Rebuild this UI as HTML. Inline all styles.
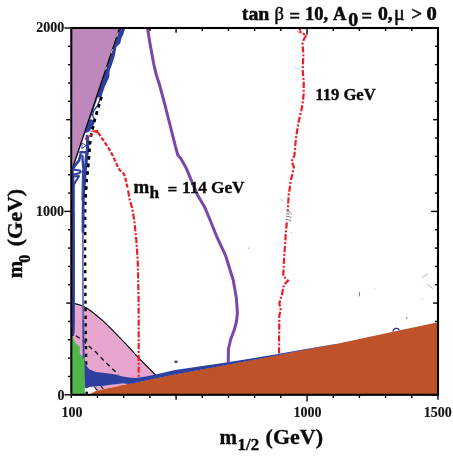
<!DOCTYPE html>
<html><head><meta charset="utf-8">
<style>
html,body{margin:0;padding:0;background:#fff;}
svg{display:block;will-change:transform;}
text{font-family:"Liberation Serif",serif;font-weight:bold;fill:#0a0a0a;stroke:#0a0a0a;stroke-width:0.35px;}
.tt text{stroke-width:0.5px;}
.tl text{stroke-width:0.15px;fill:#151515;stroke:#151515;}
</style></head><body>
<svg width="453" height="457" viewBox="0 0 453 457">
<rect width="453" height="457" fill="#fff"/>
<!-- ticks -->
<g stroke="#000" stroke-width="1.4" fill="none">
<line x1="71.30" y1="395.80" x2="71.30" y2="397.90"/>
<line x1="71.30" y1="29.00" x2="71.30" y2="31.00"/>
<line x1="97.49" y1="395.80" x2="97.49" y2="397.90"/>
<line x1="97.49" y1="29.00" x2="97.49" y2="31.00"/>
<line x1="123.69" y1="395.80" x2="123.69" y2="397.90"/>
<line x1="123.69" y1="29.00" x2="123.69" y2="31.00"/>
<line x1="149.88" y1="395.80" x2="149.88" y2="397.90"/>
<line x1="149.88" y1="29.00" x2="149.88" y2="31.00"/>
<line x1="176.07" y1="395.80" x2="176.07" y2="399.70"/>
<line x1="176.07" y1="29.00" x2="176.07" y2="32.80"/>
<line x1="202.26" y1="395.80" x2="202.26" y2="397.90"/>
<line x1="202.26" y1="29.00" x2="202.26" y2="31.00"/>
<line x1="228.46" y1="395.80" x2="228.46" y2="397.90"/>
<line x1="228.46" y1="29.00" x2="228.46" y2="31.00"/>
<line x1="254.65" y1="395.80" x2="254.65" y2="397.90"/>
<line x1="254.65" y1="29.00" x2="254.65" y2="31.00"/>
<line x1="280.84" y1="395.80" x2="280.84" y2="397.90"/>
<line x1="280.84" y1="29.00" x2="280.84" y2="31.00"/>
<line x1="307.04" y1="395.80" x2="307.04" y2="401.60"/>
<line x1="307.04" y1="29.00" x2="307.04" y2="34.70"/>
<line x1="333.23" y1="395.80" x2="333.23" y2="397.90"/>
<line x1="333.23" y1="29.00" x2="333.23" y2="31.00"/>
<line x1="359.42" y1="395.80" x2="359.42" y2="397.90"/>
<line x1="359.42" y1="29.00" x2="359.42" y2="31.00"/>
<line x1="385.61" y1="395.80" x2="385.61" y2="397.90"/>
<line x1="385.61" y1="29.00" x2="385.61" y2="31.00"/>
<line x1="411.81" y1="395.80" x2="411.81" y2="397.90"/>
<line x1="411.81" y1="29.00" x2="411.81" y2="31.00"/>
<line x1="438.00" y1="395.80" x2="438.00" y2="399.70"/>
<line x1="438.00" y1="29.00" x2="438.00" y2="32.80"/>
<line x1="70.30" y1="394.80" x2="64.40" y2="394.80"/>
<line x1="437.00" y1="394.80" x2="431.20" y2="394.80"/>
<line x1="70.30" y1="376.46" x2="68.00" y2="376.46"/>
<line x1="437.00" y1="376.46" x2="434.80" y2="376.46"/>
<line x1="70.30" y1="358.12" x2="68.00" y2="358.12"/>
<line x1="437.00" y1="358.12" x2="434.80" y2="358.12"/>
<line x1="70.30" y1="339.78" x2="68.00" y2="339.78"/>
<line x1="437.00" y1="339.78" x2="434.80" y2="339.78"/>
<line x1="70.30" y1="321.44" x2="68.00" y2="321.44"/>
<line x1="437.00" y1="321.44" x2="434.80" y2="321.44"/>
<line x1="70.30" y1="303.10" x2="66.30" y2="303.10"/>
<line x1="437.00" y1="303.10" x2="433.10" y2="303.10"/>
<line x1="70.30" y1="284.76" x2="68.00" y2="284.76"/>
<line x1="437.00" y1="284.76" x2="434.80" y2="284.76"/>
<line x1="70.30" y1="266.42" x2="68.00" y2="266.42"/>
<line x1="437.00" y1="266.42" x2="434.80" y2="266.42"/>
<line x1="70.30" y1="248.08" x2="68.00" y2="248.08"/>
<line x1="437.00" y1="248.08" x2="434.80" y2="248.08"/>
<line x1="70.30" y1="229.74" x2="68.00" y2="229.74"/>
<line x1="437.00" y1="229.74" x2="434.80" y2="229.74"/>
<line x1="70.30" y1="211.40" x2="64.30" y2="211.40"/>
<line x1="437.00" y1="211.40" x2="431.10" y2="211.40"/>
<line x1="70.30" y1="193.06" x2="68.00" y2="193.06"/>
<line x1="437.00" y1="193.06" x2="434.80" y2="193.06"/>
<line x1="70.30" y1="174.72" x2="68.00" y2="174.72"/>
<line x1="437.00" y1="174.72" x2="434.80" y2="174.72"/>
<line x1="70.30" y1="156.38" x2="68.00" y2="156.38"/>
<line x1="437.00" y1="156.38" x2="434.80" y2="156.38"/>
<line x1="70.30" y1="138.04" x2="68.00" y2="138.04"/>
<line x1="437.00" y1="138.04" x2="434.80" y2="138.04"/>
<line x1="70.30" y1="119.70" x2="66.30" y2="119.70"/>
<line x1="437.00" y1="119.70" x2="433.10" y2="119.70"/>
<line x1="70.30" y1="101.36" x2="68.00" y2="101.36"/>
<line x1="437.00" y1="101.36" x2="434.80" y2="101.36"/>
<line x1="70.30" y1="83.02" x2="68.00" y2="83.02"/>
<line x1="437.00" y1="83.02" x2="434.80" y2="83.02"/>
<line x1="70.30" y1="64.68" x2="68.00" y2="64.68"/>
<line x1="437.00" y1="64.68" x2="434.80" y2="64.68"/>
<line x1="70.30" y1="46.34" x2="68.00" y2="46.34"/>
<line x1="437.00" y1="46.34" x2="434.80" y2="46.34"/>
<line x1="70.30" y1="28.00" x2="64.40" y2="28.00"/>
<line x1="437.00" y1="28.00" x2="431.20" y2="28.00"/>
</g>
<!-- filled regions -->
<polygon points="72.0,28.0 119.7,28.0 72.4,168.7" fill="#be87bd"/>
<polygon points="72.0,303.2 74.6,303.5 78.5,304.6 83.2,306.3 86.5,308.0 89.9,310.2 93.2,312.7 96.5,315.5 103.1,320.9 109.7,327.4 116.4,334.1 123.0,340.9 127.0,345.2 132.0,350.7 138.3,357.5 146.0,365.3 151.0,370.4 156.4,375.8 157.6,378.5 157.0,381.0 100.0,381.0 85.0,381.0 72.0,381.0" fill="#e5a5cc"/>
<polygon points="94.5,387.0 97.5,391.0 102.5,389.5 109.0,388.1 115.7,386.8 122.4,385.1 126.0,383.5 115.7,384.0 102.5,385.8 95.9,386.9" fill="#e5a5cc"/>
<polyline points="72.0,303.2 74.6,303.5 78.5,304.6 83.2,306.3 86.5,308.0 89.9,310.2 93.2,312.7 96.5,315.5 103.1,320.9 109.7,327.4 116.4,334.1 123.0,340.9 127.0,345.2 132.0,350.7 138.3,357.5 146.0,365.3 151.0,370.4 156.4,375.8 157.6,378.5" fill="none" stroke="#000" stroke-width="1.1"/>
<!-- dashed diagonal in pink -->
<path d="M75.8,335.8 L81,339 L88.4,345.7 L96,352.3 L104.8,361.5 L111,367.5 L118.4,374.5" fill="none" stroke="#111" stroke-width="1.3" stroke-dasharray="4.6,3.6"/>
<polygon points="72.0,334.8 75.0,342.4 79.7,346.8 79.7,353.9 84.9,358.3 84.9,394.8 72.0,394.8" fill="#4fb748"/>
<polygon points="89.2,394.8 92.5,392.8 95.9,391.0 102.5,389.5 109.0,388.1 115.7,386.8 122.4,385.1 129.0,383.8 136.0,382.5 146.0,380.4 175.0,374.2 228.0,364.6 278.0,355.0 300.0,350.5 336.0,344.1 393.0,331.8 438.0,322.3 438.0,394.8" fill="#bf5229"/>
<!-- black dotted -->
<path d="M102.3,94 L98.5,107 L95.2,118 L91,135.6 L89.8,145 L88.7,160.6 L87.1,176 L85.9,191 L85.3,205 L85.1,250 L85.6,320 L86.0,350 L86.7,394" fill="none" stroke="#000" stroke-width="2.4" stroke-dasharray="3.3,4.3" stroke-dashoffset="-3"/>
<polygon points="84.4,356.0 85.2,362.0 87.0,366.5 89.2,369.2 95.9,371.9 102.5,372.8 109.0,373.6 115.7,374.5 122.4,376.5 129.0,377.5 136.0,378.0 146.0,376.6 160.0,373.5 175.0,370.0 228.0,362.3 278.0,354.0 300.0,350.0 336.0,343.9 336.0,344.3 300.0,350.7 278.0,355.2 228.0,364.8 175.0,374.4 146.0,380.6 136.0,382.7 129.0,383.9 122.4,383.4 115.7,384.2 109.0,385.1 102.5,386.0 95.9,386.6 89.2,386.9 86.5,388.4 84.9,387.6" fill="#2e3f9f"/>
<line x1="94.5" y1="387" x2="97.2" y2="390.4" stroke="#111" stroke-width="1.2"/>
<line x1="101.2" y1="386.4" x2="103.2" y2="389" stroke="#111" stroke-width="1.2"/>
<!-- blue along triangle edge -->
<polygon points="124.6,28.5 123.5,33.9 121.4,38.2 120.3,43.2 116.4,47.0 114.8,55.8 112.0,64.5 109.6,71.0 109.3,77.0 105.3,85.6 103.2,91.3 101.8,95.6 99.5,97.5 96.7,97.5 103.0,79.0 109.6,59.3 116.1,40.0 119.9,28.5" fill="#2e3f9f"/>
<polygon points="89.5,119.0 94.9,120.6 94.2,124.0 92.6,126.8 89.6,131.2 86.6,132.8 84.8,133.0" fill="#2e3f9f"/>
<path d="M101.2,96 L99.6,100.6 L97.5,105.6 L93.4,111.3 L92.6,115.5 L94.7,120.8" fill="none" stroke="#2e3f9f" stroke-width="1.4"/>
<path d="M97.3,97 L89.9,119" fill="none" stroke="#2e3f9f" stroke-width="0.9"/>
<polyline points="119.7,28.0 72.4,168.7" fill="none" stroke="#000" stroke-width="1.3"/>
<path d="M118.2,32.5 L116.6,37.2 M112.6,49 L111.2,53.2 M106.6,66.8 L105.6,69.8" fill="none" stroke="#fff" stroke-width="0.8"/>
<!-- blue squiggles -->
<polygon points="72,169 73.5,169 74.8,185 74.9,240 74.9,320 74.7,331 74.0,336 72,336" fill="#2e3f9f"/>
<g fill="none" stroke="#2e3f9f" stroke-linecap="round" stroke-linejoin="round">
<path d="M87.3,136.5 L87.7,142 L87.5,150.6 L86.3,158.3 L85.9,165 L85,171 L84.0,187" stroke-width="3.3"/>
<path d="M84.0,187 L83.3,200 L83.1,210 L83.0,232" stroke-width="2.8"/>
<path d="M82.4,156 L83,165 L84,172" stroke-width="2.3"/>
<path d="M80.5,152.2 L86.6,152.2" stroke-width="2.6"/>
<path d="M82.2,143 L86,145.7 L82.2,148.4 Z" stroke-width="1"/>
<path d="M80.5,154.5 L79,160.6 L75.2,165.2 L73,168.5" stroke-width="2.6"/>
<path d="M73,169.4 L79.8,170.4 L80.8,171.8 L79.5,173 L73.7,174.8" stroke-width="2"/>
<path d="M73.7,176.4 L79,176 L77,179.5 L75.2,182.2 L73.4,185.5" stroke-width="2"/>
<path d="M82.6,170 L82.2,185 L82.0,200" stroke-width="1.1"/>
<path d="M83.0,232 L82.9,260 L83.0,300 L83.2,320" stroke-width="1.6" stroke="#4f5fb6" stroke-linecap="butt"/>
<path d="M83.2,320 L83.4,335 L83.7,358" stroke-width="2" stroke="#3949a6" stroke-linecap="butt"/>
</g>
<path d="M102.3,94 L98.5,107 L95.2,118 L91,135.6 L89.8,145 L88.7,160.6 L87.1,176 L85.9,191 L85.5,198" fill="none" stroke="#000" stroke-width="2.5" stroke-dasharray="3.3,4.3" stroke-dashoffset="-3"/>
<!-- red mh=114 -->
<polygon points="89.4,131 98.2,129.7 98.6,133.4" fill="#ee1c25"/>
<path d="M84.9,138.8 L87.2,139 M89.6,136.6 L91.3,134.4" fill="none" stroke="#ee1c25" stroke-width="2"/>
<path d="M98.2,132.6 L100.8,136.8 L104.3,141.6 L106.9,145.6 L109.7,150 L112.4,154.9 L115.5,161.5 L118.1,167.7 L119.9,170.3 L123.8,173.8 L125.2,177.4 L126.5,183.6 L127.8,188.9" fill="none" stroke="#ee1c25" stroke-width="2.2" stroke-dasharray="4.2,1.7"/>
<path d="M128.1,190.5 L129.7,200 L132.3,208.5 L134.5,222 L136.3,240 L137.7,260 L138.2,280 L138.6,300 L138.7,330 L138.6,377" fill="none" stroke="#ee1c25" stroke-width="2.2" stroke-dasharray="6.2,1.8,2,1.8"/>
<!-- red 119 -->
<path d="M300.8,28.6 L297.8,32 M299.4,31.4 L306.3,35.6" fill="none" stroke="#ee1c25" stroke-width="2.1" stroke-dasharray="2.6,1.4"/>
<path d="M306.3,35.5 L304,39 L302.5,43.5 L303.1,51 L303.3,55.3 L302.7,70.6 L303.7,81.3 L303.7,93.6 L302.6,104 L301.4,110 L298.7,121.4 L295.9,138.5 L294.4,155.6 L291.6,161.2 L293.9,167 L290.7,181.2 L288.7,195.4 L287.7,210.9 M286.8,222.4 L285.6,235 L285.4,240 L284.2,256.2 L283.2,275.9 L288.1,280.8 L284.2,284.1 L281.6,295.6 L279.3,303.8 L280.9,310.3 L279.3,315.2 L279.1,335 L279,354" fill="none" stroke="#ee1c25" stroke-width="2.2" stroke-dasharray="6.2,1.8,2,1.8"/>
<text transform="translate(290.6,222.3) rotate(-84)" textLength="11" lengthAdjust="spacingAndGlyphs" style="font-size:7.8px;font-weight:normal;font-style:italic;fill:#4a4a4a;stroke:none">119</text>
<!-- purple line -->
<path d="M147.5,28 L150.2,44.7 L153.8,64.3 L156.1,74.2 L159.3,84 L164.6,103.7 L167.5,115 L175.3,145.9 L177.9,155.3 L181,158.8 L186.3,168.4 L191.8,181.5 L197.4,194.7 L205,207.8 L210.5,221 L217,237.2 L225.8,256.2 L233.2,280 L236.3,297.5 L237.4,312.8 L236.4,322 L234.1,330.3 L230.8,339 L228.4,349 L228.3,363" fill="none" stroke="#7b46aa" stroke-width="3" stroke-linejoin="round"/>
<!-- specks -->
<ellipse cx="176" cy="361.8" rx="1.7" ry="1.4" fill="#2e3f9f"/>
<path d="M393.2,331.6 A3.1,2.5 0 0 1 399.4,330.4" fill="none" stroke="#2e3f9f" stroke-width="1.3"/>
<circle cx="406.7" cy="318" r="0.7" fill="#2e3f9f"/>
<line x1="359.4" y1="292" x2="359.4" y2="296.4" stroke="#4656ad" stroke-width="0.8"/>
<line x1="422.1" y1="277.6" x2="427.9" y2="273.8" stroke="#6a78c0" stroke-width="0.6"/>
<line x1="427.2" y1="284.2" x2="432.7" y2="288.6" stroke="#6a78c0" stroke-width="0.6"/>
<path d="M294.6,66.5 q0.8,3.2 4.8,2" fill="none" stroke="#7fd0ee" stroke-width="0.8"/>
<path d="M280.5,199.5 l2.5,0.8 l-1.5,1.5" fill="none" stroke="#6cc8ee" stroke-width="0.7"/>
<circle cx="248.8" cy="248" r="0.6" fill="#4858b2"/>
<circle cx="291.4" cy="232.6" r="0.5" fill="#7a86c8"/>
<circle cx="422.3" cy="299.4" r="0.5" fill="#7a86c8"/>
<circle cx="375" cy="288.2" r="0.5" fill="#9aa4d6"/>
<!-- frame -->
<rect x="71.3" y="28.0" width="366.7" height="366.8" fill="none" stroke="#000" stroke-width="2.1"/>
<!-- tick labels -->
<g class="tl" style="font-size:14px">
<text x="64.3" y="32.4" text-anchor="end">2000</text>
<text x="64.1" y="216" text-anchor="end">1000</text>
<text x="64.4" y="399.7" text-anchor="end">0</text>
<text x="72" y="416.7" text-anchor="middle">100</text>
<text x="307.5" y="416.7" text-anchor="middle">1000</text>
<text x="437.8" y="416.7" text-anchor="middle">1500</text>
</g>
<!-- title -->
<g class="tt" style="font-size:18.5px">
<text x="241.8" y="20.4" textLength="27.6" lengthAdjust="spacingAndGlyphs" style="font-size:19px">tan</text>
<text x="274.5" y="20.4" style="font-weight:normal">β</text>
<text x="289.6" y="21.6">=</text>
<text x="305" y="20.4">10,</text>
<text x="333" y="20.4">A</text>
<text x="348.3" y="25.7" style="font-size:18.5px" textLength="9.9" lengthAdjust="spacingAndGlyphs">0</text>
<text x="361.5" y="21.6">=</text>
<text x="378" y="20.4" textLength="14.8" lengthAdjust="spacingAndGlyphs">0,</text>
<text x="394" y="20.4" style="font-weight:normal;font-size:20px">μ</text>
<text x="411.4" y="20.4">&gt;</text>
<text x="426.6" y="20.4" textLength="10.3" lengthAdjust="spacingAndGlyphs">0</text>
</g>
<!-- labels -->
<g style="font-size:17.3px">
<text x="133.4" y="193" style="font-size:18.9px">m</text>
<text x="149.6" y="198.2">h</text>
<text x="167.6" y="195">=</text>
<text x="182" y="193">114</text>
<text x="211" y="193">GeV</text>
<text x="315.3" y="100" style="font-size:16.6px">119 GeV</text>
</g>
<!-- axis labels -->
<g style="font-size:21px">
<text x="219.6" y="443.8">m</text>
<text x="237.6" y="449.8" style="font-size:16.3px" textLength="21.6" lengthAdjust="spacingAndGlyphs">1/2</text>
<text x="265.6" y="443.8" textLength="57.4" lengthAdjust="spacingAndGlyphs">(GeV)</text>
<g transform="translate(21.8,278.3) rotate(-90)">
<text x="0" y="0">m</text>
<text x="15.6" y="7.7" style="font-size:16px">0</text>
<text x="32.0" y="0" textLength="57.4" lengthAdjust="spacingAndGlyphs">(GeV)</text>
</g>
</g>
</svg>
</body></html>
